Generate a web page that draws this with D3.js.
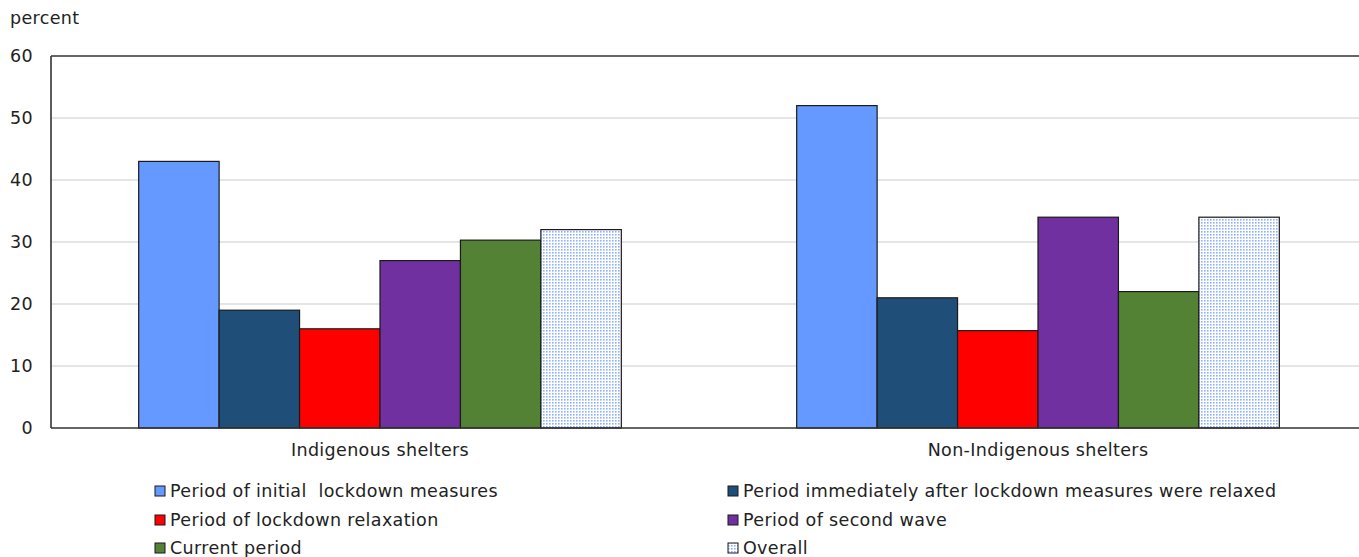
<!DOCTYPE html>
<html><head><meta charset="utf-8">
<script src="https://cdn.jsdelivr.net/npm/d3@7"></script>
<style>body{margin:0;background:#fff;}svg{display:block;font-family:"DejaVu Sans",Verdana,sans-serif;}</style>
</head><body><svg id="c" width="1359" height="557"></svg>
<script>
const categories = ["Indigenous shelters", "Non-Indigenous shelters"];
const seriesNames = [
  "Period of initial  lockdown measures",
  "Period immediately after lockdown measures were relaxed",
  "Period of lockdown relaxation",
  "Period of second wave",
  "Current period",
  "Overall"
];
const initialLockdown = [43, 52];
const immediatelyAfter = [19, 21];
const lockdownRelaxation = [16, 15.7];
const secondWave = [27, 34];
const currentPeriod = [30.3, 22];
const overall = [32, 34];
const yTicks = [0, 10, 20, 30, 40, 50, 60];
const colors = ["#6699ff", "#1f4e79", "#ff0000", "#7030a0", "#548235", "url(#dots)"];

const seriesValues = [initialLockdown, immediatelyAfter, lockdownRelaxation, secondWave, currentPeriod, overall];
const FS = 17.5;
const LS = "0.35px";
const FONT = '"DejaVu Sans",Verdana,sans-serif';

const svg = d3.select("#c");
const defs = svg.append("defs");
const pat = defs.append("pattern").attr("id","dots").attr("patternUnits","userSpaceOnUse")
  .attr("width",3).attr("height",3);
pat.append("rect").attr("width",3).attr("height",3).attr("fill","#ffffff");
pat.append("rect").attr("x",0).attr("y",0).attr("width",1.6).attr("height",1.6).attr("fill","#8fb0ff");

const L = 51, R = 1367, T = 56, B = 428;
const x0 = d3.scaleBand().domain(categories).range([L, R]).paddingInner(0).paddingOuter(0);
const x1 = d3.scaleBand().domain(seriesNames).range([0, x0.bandwidth()]).paddingInner(0).paddingOuter(1.09);
const y = d3.scaleLinear().domain([0, 60]).range([B, T]);

// gridlines
svg.append("g").selectAll("line").data(yTicks.filter(d => d > 0 && d < 60)).join("line")
  .attr("x1", L).attr("x2", 1359).attr("y1", d => y(d)).attr("y2", d => y(d))
  .attr("stroke", "#dcdcdc").attr("stroke-width", 1.5);

// y axis labels
const yAxis = d3.axisLeft(y).tickValues(yTicks).tickSize(0).tickPadding(18);
const ya = svg.append("g").attr("transform", `translate(${L},0)`).call(yAxis);
ya.select(".domain").remove();
ya.selectAll("text").attr("font-size", FS).attr("fill", "#222").style("font-family", FONT).style("letter-spacing", LS);

// bars
const groups = svg.append("g").selectAll("g").data(categories).join("g")
  .attr("transform", d => `translate(${x0(d)},0)`);
groups.selectAll("rect").data((c, ci) => seriesNames.map((s, si) => ({s, si, v: seriesValues[si][ci]})))
  .join("rect")
  .attr("x", d => x1(d.s)).attr("width", x1.bandwidth())
  .attr("y", d => y(d.v)).attr("height", d => y(0) - y(d.v))
  .attr("fill", d => colors[d.si]).attr("stroke", "#1a1a1a").attr("stroke-width", 1.2);

// frame
svg.append("line").attr("x1", L).attr("x2", 1359).attr("y1", T).attr("y2", T).attr("stroke", "#333").attr("stroke-width", 1.6);
svg.append("line").attr("x1", L).attr("x2", 1359).attr("y1", B).attr("y2", B).attr("stroke", "#333").attr("stroke-width", 1.6);
svg.append("line").attr("x1", L).attr("x2", L).attr("y1", T).attr("y2", B).attr("stroke", "#333").attr("stroke-width", 1.6);

// x axis labels
const xAxis = d3.axisBottom(x0).tickSize(0).tickPadding(16);
const xa = svg.append("g").attr("transform", `translate(0,${B})`).call(xAxis);
xa.select(".domain").remove();
xa.selectAll("text").attr("font-size", FS).attr("fill", "#222").style("font-family", FONT).style("letter-spacing", LS);

// y title
svg.append("text").attr("x", 10).attr("y", 24).attr("font-size", FS).attr("fill", "#222").style("letter-spacing", LS).text("percent");

// legend
const legX = [155, 728], legY = [491, 520, 548];
const leg = svg.append("g").selectAll("g").data(seriesNames).join("g")
  .attr("transform", (d, i) => `translate(${legX[i % 2]},${legY[Math.floor(i / 2)]})`);
leg.append("rect").attr("x", 0).attr("y", -5).attr("width", 10).attr("height", 10)
  .attr("fill", (d, i) => colors[i]).attr("stroke", "#1a1a1a").attr("stroke-width", 1);
leg.append("text").attr("x", 15).attr("y", 6).attr("font-size", FS).attr("fill", "#222")
  .style("letter-spacing", LS)
  .attr("xml:space","preserve").style("white-space","pre").text(d => d);
</script></body></html>
